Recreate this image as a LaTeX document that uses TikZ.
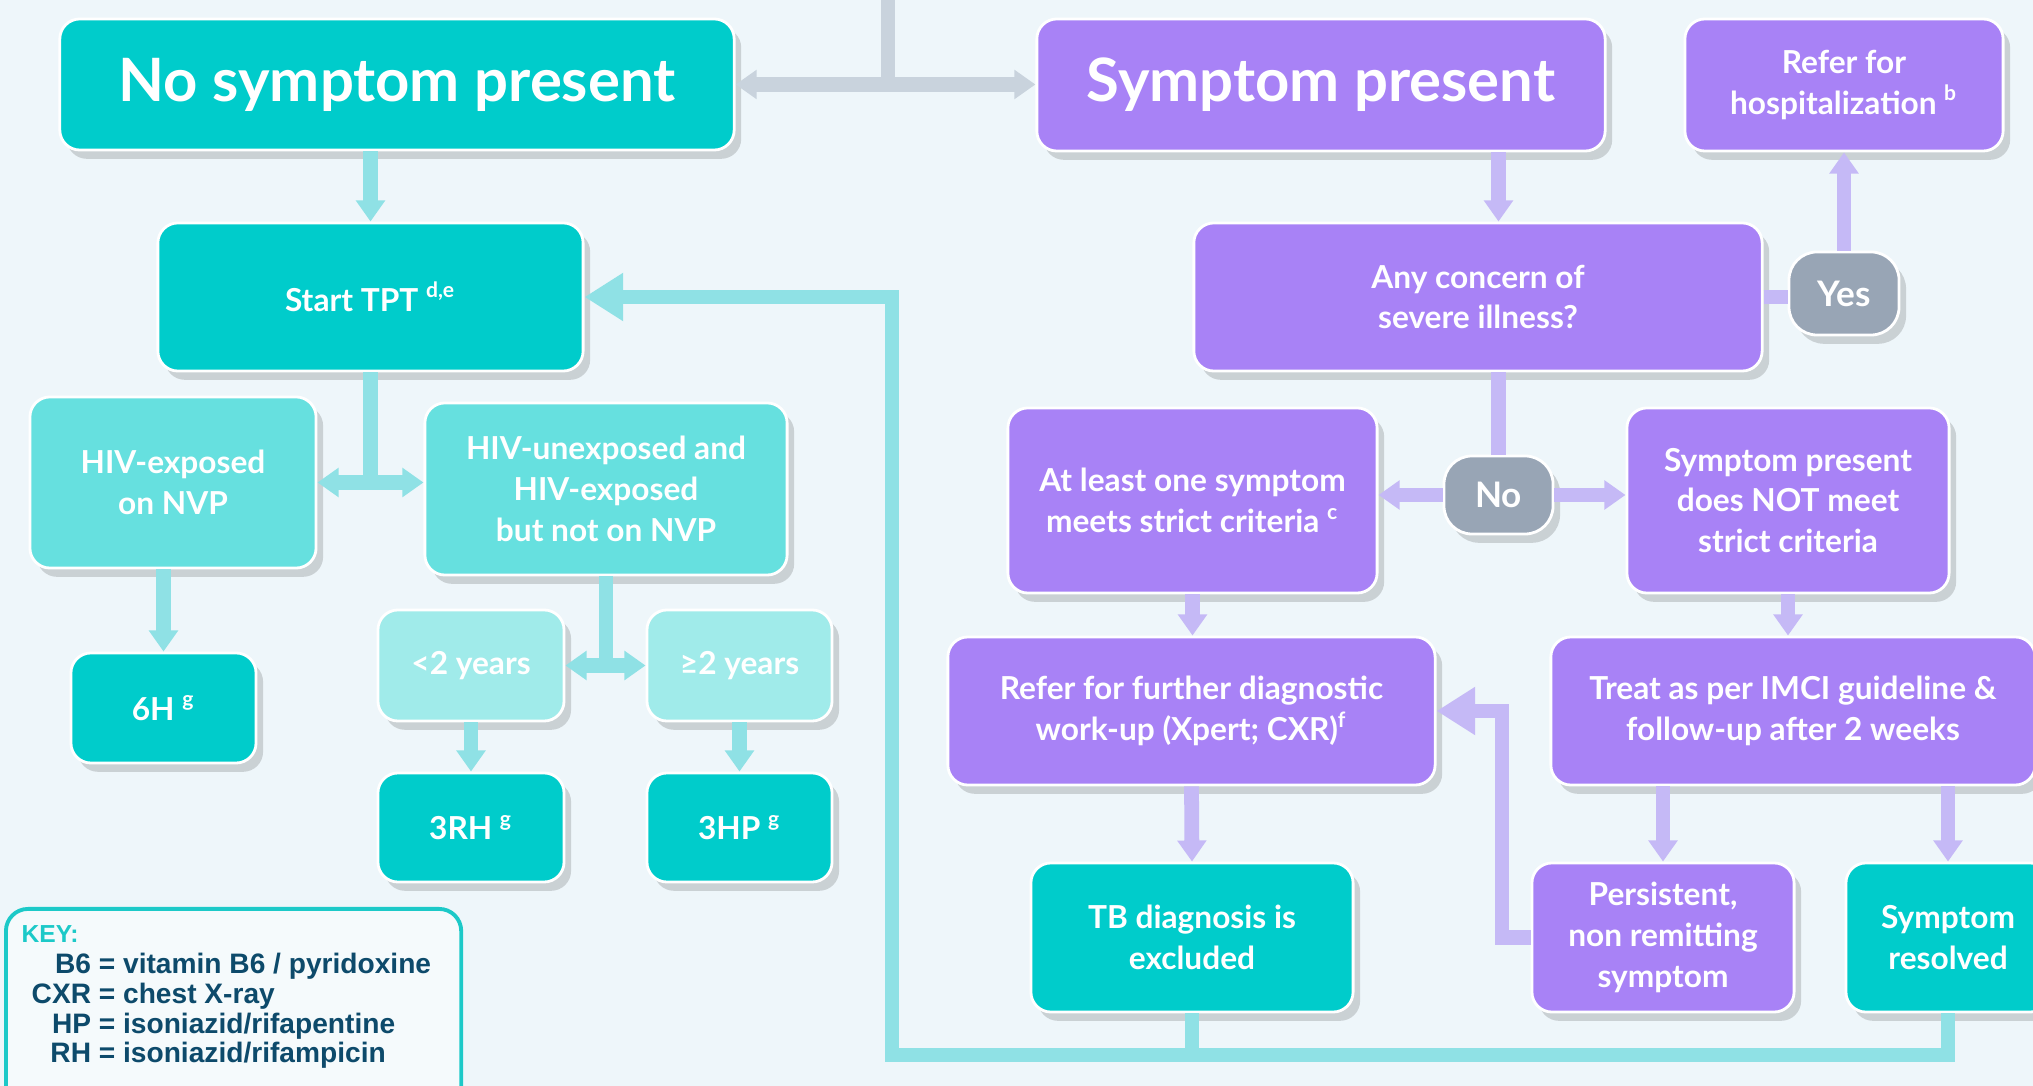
\documentclass[tikz,border=0pt]{standalone}
\usepackage{fontspec}
\setmainfont{Lato}
\newfontfamily\keyfont{Liberation Sans}
\usetikzlibrary{arrows.meta,shadows}

\definecolor{bgcol}{HTML}{EEF6FA}
\definecolor{tealA}{HTML}{00CCCB}
\definecolor{tealB}{HTML}{66E0DF}
\definecolor{tealC}{HTML}{A0EBEA}
\definecolor{purp}{HTML}{A882F6}
\definecolor{slate}{HTML}{98A5B5}
\definecolor{tealln}{HTML}{8FE1E5}
\definecolor{purpln}{HTML}{C5B9F6}
\definecolor{grayln}{HTML}{C9D3DD}
\definecolor{navy}{HTML}{0D4A6B}
\definecolor{keyteal}{HTML}{1CC9C8}

\tikzset{
  box/.style={draw=white, line width=0.8pt, rounded corners=0.2cm, align=center, text=white,
    inner sep=2pt, font=\fontsize{9}{11.6}\selectfont\bfseries,
    drop shadow={shadow xshift=2pt, shadow yshift=-2.5pt, opacity=0.15, fill=black}},
  tealbox/.style={box, fill=tealA},
  midbox/.style={box, fill=tealB},
  lightbox/.style={box, fill=tealC},
  purpbox/.style={box, fill=purp},
  titlebox/.style={box, font=\fontsize{17}{20}\selectfont\bfseries},
  decbox/.style={box, fill=slate, rounded corners=0.28cm, font=\fontsize{10}{12}\selectfont\bfseries},
  tconn/.style={draw=tealln, line width=4.2pt},
  pconn/.style={draw=purpln, line width=4.2pt},
  gconn/.style={draw=grayln, line width=4.2pt},
  bighead/.style={-{Triangle[width=13pt,length=11pt]}}
}

\begin{document}
\begin{tikzpicture}[x=0.01cm, y=-0.01cm, >={Triangle[width=8pt,length=6pt]}]
  %%%%% BACKGROUND %%%%%
  \useasboundingbox (0,0) rectangle (2033,1086);
  \fill[bgcol] (0,0) rectangle (2033,1086);

  %%%%% LEFT BRANCH %%%%%
  \node[titlebox, fill=tealA, minimum width=6.74cm, minimum height=1.31cm] (nosym) at (397,84.5) {No symptom present};
  \node[tealbox, minimum width=4.25cm, minimum height=1.48cm] (tpt) at (370.5,297) {Start TPT \textsuperscript{d,e}};
  \node[midbox, minimum width=2.86cm, minimum height=1.71cm] (nvp) at (173,482.5) {HIV-exposed\\on NVP};
  \node[midbox, minimum width=3.62cm, minimum height=1.72cm] (notnvp) at (606,489) {HIV-unexposed and\\HIV-exposed\\but not on NVP};
  \node[tealbox, minimum width=1.85cm, minimum height=1.10cm] (h6) at (163.5,708) {6H \textsuperscript{g}};
  \node[lightbox, minimum width=1.86cm, minimum height=1.11cm] (lt2) at (471,665.5) {<2 years};
  \node[lightbox, minimum width=1.85cm, minimum height=1.11cm] (ge2) at (739.5,665.5) {≥2 years};
  \node[tealbox, minimum width=1.86cm, minimum height=1.09cm] (rh3) at (471,827.5) {3RH \textsuperscript{g}};
  \node[tealbox, minimum width=1.85cm, minimum height=1.09cm] (hp3) at (739.5,827.5) {3HP \textsuperscript{g}};

  %%%%% RIGHT BRANCH %%%%%
  \node[titlebox, fill=purp, minimum width=5.68cm, minimum height=1.32cm] (sym) at (1321,85) {Symptom present};
  \node[purpbox, minimum width=3.18cm, minimum height=1.32cm] (hosp) at (1844,85) {Refer for\\hospitalization \textsuperscript{b}};
  \node[purpbox, minimum width=5.68cm, minimum height=1.48cm] (concern) at (1478,297) {Any concern of\\severe illness?};
  \node[decbox, minimum width=1.10cm, minimum height=0.83cm] (yes) at (1844,293.5) {Yes};
  \node[purpbox, minimum width=3.69cm, minimum height=1.85cm] (strict) at (1192.5,500.5) {At least one symptom\\meets strict criteria \textsuperscript{c}};
  \node[purpbox, minimum width=3.22cm, minimum height=1.85cm] (nostrict) at (1788,500.5) {Symptom present\\does NOT meet\\strict criteria};
  \node[decbox, minimum width=1.09cm, minimum height=0.78cm] (no) at (1498.5,495) {No};
  \node[purpbox, minimum width=4.87cm, minimum height=1.48cm] (further) at (1191.5,711) {Refer for further diagnostic\\work-up (Xpert; CXR)\textsuperscript{f}};
  \node[purpbox, minimum width=4.84cm, minimum height=1.48cm] (imci) at (1793,711) {Treat as per IMCI guideline \&\\follow-up after 2 weeks};
  \node[tealbox, minimum width=3.22cm, minimum height=1.49cm] (tb) at (1192,937.5) {TB diagnosis is\\excluded};
  \node[purpbox, minimum width=2.62cm, minimum height=1.49cm] (persist) at (1663,937.5) {Persistent,\\non remitting\\symptom};
  \node[tealbox, minimum width=2.04cm, minimum height=1.49cm] (resolved) at (1948,937.5) {Symptom\\resolved};

  %%%%% CONNECTORS %%%%%
  \coordinate (topin) at (888,0);
  \draw[gconn] (topin) -- (topin |- nosym.east);
  \draw[gconn, <->] (nosym.east) -- (nosym.east -| sym.west);

  \draw[tconn, ->] (tpt.north |- nosym.south) -- (tpt.north);
  \draw[tconn] (tpt.south) -- (tpt.south |- nvp.east);
  \draw[tconn, <->] (nvp.east) -- (nvp.east -| notnvp.west);
  \draw[tconn, ->] (h6.north |- nvp.south) -- (h6.north);
  \draw[tconn] (notnvp.south) -- (notnvp.south |- lt2.east);
  \draw[tconn, <->] (lt2.east) -- (ge2.west);
  \draw[tconn, ->] (lt2.south) -- (rh3.north);
  \draw[tconn, ->] (ge2.south) -- (hp3.north);

  \draw[pconn, ->] (sym.south -| no.north) -- (concern.north -| no.north);
  \draw[pconn] (concern.east) -- (concern.east -| yes.west);
  \draw[pconn, ->] (yes.north) -- (yes.north |- hosp.south);
  \draw[pconn] (concern.south -| no.north) -- (no.north);
  \draw[pconn, ->] (no.west) -- (no.west -| strict.east);
  \draw[pconn, ->] (no.east) -- (no.east -| nostrict.west);
  \draw[pconn, ->] (strict.south) -- (strict.south |- further.north);
  \draw[pconn, ->] (nostrict.south) -- (nostrict.south |- imci.north);
  \draw[pconn, ->] (further.south) -- (tb.north);
  \draw[pconn, ->] (persist.north |- imci.south) -- (persist.north);
  \draw[pconn, ->] (resolved.north |- imci.south) -- (resolved.north);

  % back to further work-up
  \coordinate (upB) at (1502,711);
  \draw[pconn, bighead] (persist.west) -| (upB) -- (further.east);

  % loop back to TPT
  \coordinate (loopL) at (892,1055);
  \draw[tconn] (tb.south) -- (tb.south |- loopL);
  \draw[tconn, bighead] (resolved.south) |- (loopL) |- (tpt.east);

  %%%%% KEY %%%%%
  \node[draw=keyteal, line width=1.1pt, fill=bgcol!60!white, rounded corners=0.22cm,
    anchor=north west, minimum width=4.55cm, minimum height=2.2cm] (key) at (4,907) {};
  \node[anchor=base west, inner sep=0pt, text=keyteal, font=\keyfont\bfseries\fontsize{7}{8}\selectfont] (keyhead) at (21,943) {KEY:};
  \node[anchor=base west, inner sep=0pt, text=navy, font=\keyfont\bfseries\fontsize{8}{8.4}\selectfont] (keytxt) at (31,974)
    {\begin{tabular}[t]{@{}r@{ = }l@{}}
      B6 & vitamin B6 / pyridoxine\\
      CXR & chest X-ray\\
      HP & isoniazid/rifapentine\\
      RH & isoniazid/rifampicin
    \end{tabular}};
\end{tikzpicture}
\end{document}
